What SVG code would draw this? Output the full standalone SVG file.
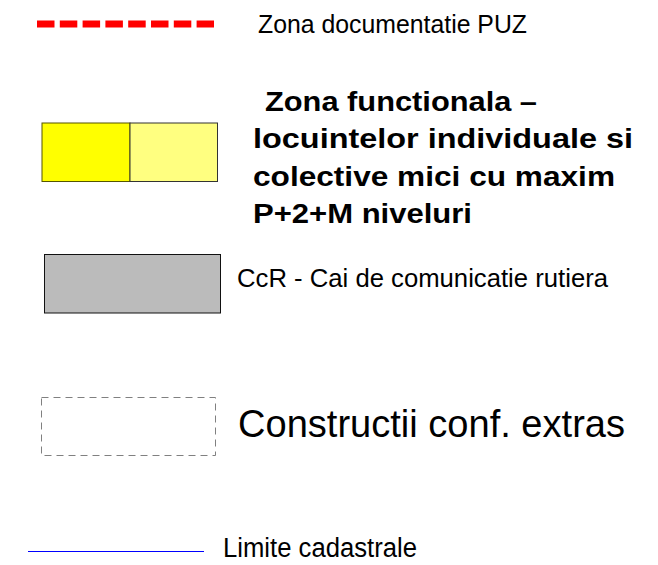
<svg xmlns="http://www.w3.org/2000/svg" width="658" height="565" viewBox="0 0 658 565">
<style>
.n{font-family:"Liberation Sans Narrow","Arial Narrow","Liberation Sans",sans-serif;fill:#000}
.b{font-family:"Liberation Sans",Arial,sans-serif;font-weight:bold;fill:#000;font-size:27px}
</style>
<rect width="658" height="565" fill="#fff"/>
<g id="puz">
<line x1="37" y1="24" x2="214" y2="24" stroke="#ff0000" stroke-width="7" stroke-dasharray="17.5 5.3"/>
<text class="n" x="258" y="33" font-size="26.5" textLength="269" lengthAdjust="spacingAndGlyphs">Zona documentatie PUZ</text>
</g>
<g id="zona-functionala">
<rect x="42" y="123" width="88" height="58.5" fill="#ffff00" stroke="#555500" stroke-width="1"/>
<rect x="130" y="123" width="87.5" height="58.5" fill="#ffff80" stroke="#333333" stroke-width="1"/>
<text class="b" x="265" y="111" textLength="272" lengthAdjust="spacingAndGlyphs">Zona functionala –</text>
<text class="b" x="253" y="148" textLength="380" lengthAdjust="spacingAndGlyphs">locuintelor individuale si</text>
<text class="b" x="253" y="186" textLength="362" lengthAdjust="spacingAndGlyphs">colective mici cu maxim</text>
<text class="b" x="253" y="223" textLength="219" lengthAdjust="spacingAndGlyphs">P+2+M niveluri</text>
</g>
<g id="ccr">
<rect x="44.5" y="254.5" width="176" height="58.5" fill="#bbbbbb" stroke="#111111" stroke-width="1"/>
<text class="n" x="237" y="287" font-size="26.5" textLength="371" lengthAdjust="spacingAndGlyphs">CcR - Cai de comunicatie rutiera</text>
</g>
<g id="constructii">
<rect x="41.5" y="397.5" width="174" height="58" fill="none" stroke="#808080" stroke-width="1" stroke-dasharray="7 5"/>
<text class="n" x="238" y="437" font-size="39" textLength="387" lengthAdjust="spacingAndGlyphs">Constructii conf. extras</text>
</g>
<g id="limite">
<line x1="28" y1="551.5" x2="204" y2="551.5" stroke="#0000ff" stroke-width="1"/>
<text class="n" x="223" y="557" font-size="27" textLength="194" lengthAdjust="spacingAndGlyphs">Limite cadastrale</text>
</g>
</svg>
